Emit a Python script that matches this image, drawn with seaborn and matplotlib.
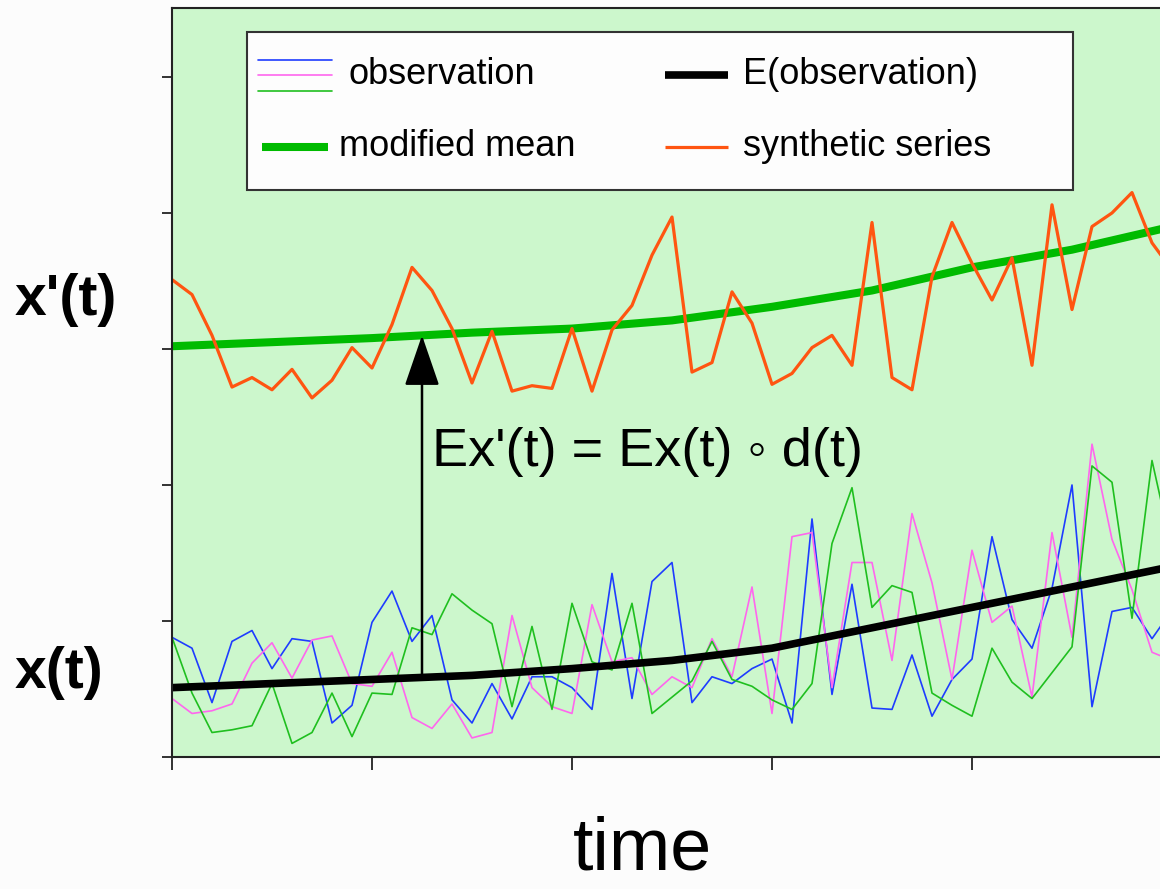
import numpy as np
import pandas as pd
import matplotlib
matplotlib.use("Agg")
import matplotlib.pyplot as plt
from matplotlib.lines import Line2D
from matplotlib.patches import Rectangle, ArrowStyle
import seaborn as sns

# --- data ---------------------------------------------------------------
step = 0.1  # sampling interval of the series on the time axis

obs_blue = [0.88, 0.80, 0.40, 0.85, 0.93, 0.65, 0.87, 0.85, 0.25, 0.38,
            0.99, 1.22, 0.85, 1.04, 0.42, 0.25, 0.54, 0.28, 0.59, 0.59,
            0.51, 0.35, 1.35, 0.43, 1.29, 1.43, 0.40, 0.59, 0.54, 0.65,
            0.72, 0.25, 1.75, 0.46, 1.27, 0.36, 0.35, 0.75, 0.30, 0.57,
            0.72, 1.62, 1.01, 0.80, 1.24, 2.00, 0.37, 1.07, 1.10, 0.87, 1.08]

obs_pink = [0.43, 0.32, 0.34, 0.39, 0.69, 0.84, 0.58, 0.86, 0.89, 0.54,
            0.52, 0.77, 0.29, 0.21, 0.39, 0.14, 0.18, 1.04, 0.51, 0.37,
            0.32, 1.12, 0.70, 0.73, 0.46, 0.59, 0.51, 0.87, 0.59, 1.25,
            0.32, 1.62, 1.65, 0.51, 1.43, 1.43, 0.71, 1.79, 1.28, 0.57,
            1.52, 0.99, 1.11, 0.44, 1.65, 0.88, 2.30, 1.60, 1.23, 0.77, 0.71]

obs_green = [0.88, 0.47, 0.18, 0.20, 0.23, 0.54, 0.10, 0.18, 0.47, 0.15,
             0.47, 0.46, 0.95, 0.90, 1.20, 1.08, 0.98, 0.37, 0.96, 0.35,
             1.13, 0.70, 0.64, 1.13, 0.32, 0.44, 0.56, 0.85, 0.57, 0.52,
             0.42, 0.35, 0.54, 1.57, 1.98, 1.10, 1.26, 1.21, 0.47, 0.38,
             0.30, 0.80, 0.55, 0.43, 0.62, 0.81, 2.14, 2.02, 1.02, 2.18, 1.52]

synthetic = [3.51, 3.40, 3.10, 2.72, 2.79, 2.70, 2.85, 2.64, 2.77, 3.01,
             2.86, 3.18, 3.60, 3.43, 3.15, 2.75, 3.13, 2.69, 2.73, 2.71,
             3.15, 2.69, 3.14, 3.32, 3.69, 3.97, 2.83, 2.90, 3.42, 3.19,
             2.74, 2.82, 3.01, 3.10, 2.88, 3.93, 2.79, 2.70, 3.53, 3.93,
             3.63, 3.36, 3.67, 2.88, 4.06, 3.29, 3.90, 4.00, 4.15, 3.78, 3.58]

knot_t = [0.0, 0.5, 1.0, 1.5, 2.0, 2.5, 3.0, 3.5, 4.0, 4.5, 5.0]
expected = [0.51, 0.54, 0.57, 0.60, 0.65, 0.71, 0.80, 0.95, 1.10, 1.25, 1.40]
modified = [3.02, 3.05, 3.08, 3.12, 3.15, 3.21, 3.31, 3.43, 3.60, 3.73, 3.90]

arrow_t = 1.25
legend_labels = ["observation", "E(observation)", "modified mean", "synthetic series"]
equation = "Ex'(t) = Ex(t) \u25E6 d(t)"

# --- colours ------------------------------------------------------------
c_blue, c_pink, c_green = "#1e3cff", "#ff66ee", "#1fbf1f"
c_mean, c_mod, c_syn = "#000000", "#00bb00", "#ff5511"
bg = "#ccf7cc"

sns.set_theme(style="ticks")
plt.rcParams["font.family"] = ["Liberation Sans", "DejaVu Sans"]
plt.rcParams["text.color"] = "black"

W, H = 1160, 889
fig = plt.figure(figsize=(W / 100, H / 100), dpi=100)
fig.patch.set_facecolor("#fcfcfc")


def fx(px):
    return px / W


def fy(py):
    return 1 - py / H


ax = fig.add_axes([fx(172), fy(757), fx(1160) - fx(172), fy(8) - fy(757)])
ax.set_facecolor(bg)

t = np.round(np.arange(len(obs_blue)) * step, 2)
obs = pd.DataFrame({
    "t": np.concatenate([t, t, t]),
    "value": obs_blue + obs_pink + obs_green,
    "run": ["run 1"] * len(t) + ["run 2"] * len(t) + ["run 3"] * len(t),
})

sns.lineplot(data=obs, x="t", y="value", hue="run",
             palette=[c_blue, c_pink, c_green], linewidth=1.2,
             estimator=None, sort=False, legend=False, ax=ax)
sns.lineplot(x=knot_t, y=expected, color=c_mean, linewidth=5.5,
             estimator=None, ax=ax)
sns.lineplot(x=knot_t, y=modified, color=c_mod, linewidth=5.8,
             estimator=None, ax=ax)
sns.lineplot(x=t, y=synthetic, color=c_syn, linewidth=2.3,
             estimator=None, ax=ax)

# arrow from the expected value up to the modified mean
y0 = float(np.interp(arrow_t, knot_t, expected))
y1 = float(np.interp(arrow_t, knot_t, modified))
ax.annotate("", xy=(arrow_t, y1), xytext=(arrow_t, y0),
            arrowprops=dict(arrowstyle=ArrowStyle("-|>", head_length=1.6, head_width=0.55),
                            mutation_scale=20, lw=1.8, color="black",
                            shrinkA=0, shrinkB=0), zorder=6)
ax.text(1.30, 2.24, equation, fontsize=39, va="center", ha="left", color="black")

ax.set_xlim(0, 4.94)
ax.set_ylim(0, 5.507)
ax.set_xticks([0, 1, 2, 3, 4])
ax.set_yticks([0, 1, 2, 3, 4, 5])
ax.tick_params(axis="both", direction="out", labelleft=False, labelbottom=False,
               color="#222222", width=1.3)
ax.tick_params(axis="y", length=7)
ax.tick_params(axis="x", length=9)
ax.set_xlabel("")
ax.set_ylabel("")
for side in ("left", "bottom", "top"):
    ax.spines[side].set_color("#222222")
    ax.spines[side].set_linewidth(1.5)
ax.spines["right"].set_visible(False)

# --- legend box -----------------------------------------------------------
fig.patches.append(Rectangle((fx(247), fy(190)), fx(1073) - fx(247), fy(32) - fy(190),
                             transform=fig.transFigure, facecolor="#fdfdfd",
                             edgecolor="#333333", linewidth=1.5, zorder=5))
for yy, cc in ((60, c_blue), (75, c_pink), (91, c_green)):
    fig.lines.append(Line2D([fx(258), fx(332)], [fy(yy), fy(yy)], color=cc, lw=1.2,
                            transform=fig.transFigure, zorder=6))
fig.lines.append(Line2D([fx(665), fx(728)], [fy(75), fy(75)], color=c_mean, lw=5.5,
                        solid_capstyle="butt", transform=fig.transFigure, zorder=6))
fig.lines.append(Line2D([fx(262), fx(328)], [fy(147), fy(147)], color=c_mod, lw=5.8,
                        solid_capstyle="butt", transform=fig.transFigure, zorder=6))
fig.lines.append(Line2D([fx(665), fx(728)], [fy(147), fy(147)], color=c_syn, lw=2.3,
                        solid_capstyle="butt", transform=fig.transFigure, zorder=6))
label_pos = [(349, 75), (743, 75), (339, 147), (743, 147)]
for (px, py), lab in zip(label_pos, legend_labels):
    fig.text(fx(px), fy(py), lab, fontsize=26, ha="left", va="center",
             color="black", zorder=7)

# --- axis captions ----------------------------------------------------------
fig.text(fx(15), fy(300), "x'(t)", fontsize=41, fontweight="bold", ha="left",
         va="center", color="black")
fig.text(fx(15), fy(673), "x(t)", fontsize=41, fontweight="bold", ha="left",
         va="center", color="black")
fig.text(fx(642), fy(870), "time", fontsize=53, ha="center", va="baseline",
         color="black")

fig.savefig("out.png", dpi=100, facecolor=fig.get_facecolor())
